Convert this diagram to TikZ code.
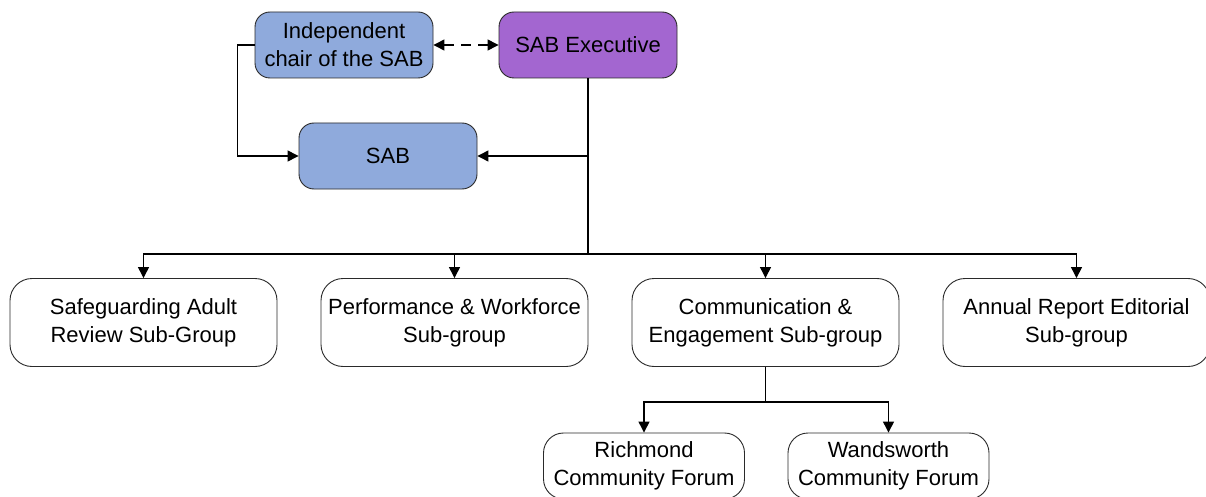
\documentclass[tikz,border=0pt]{standalone}
\usepackage{fontspec}
\setmainfont{Liberation Sans}
\usetikzlibrary{arrows.meta}
\definecolor{boxblue}{HTML}{8FAADC}
\definecolor{boxpurple}{HTML}{A366D0}
\definecolor{edgegray}{HTML}{2A2A2A}
\begin{document}
\begin{tikzpicture}[x=1pt,y=-1pt,
  basebox/.style={draw=edgegray, line width=0.9pt, inner sep=0pt, align=center,
    font=\fontsize{22}{28}\selectfont, text=black},
  topbox/.style={basebox, rounded corners=15pt, minimum width=178pt, minimum height=66pt},
  subbox/.style={basebox, rounded corners=22pt, minimum width=267pt, minimum height=88pt},
  forumbox/.style={basebox, rounded corners=20pt, minimum width=201pt, minimum height=66pt},
  conn/.style={draw=black, line width=1.3pt},
  arr/.style={conn, -{Triangle[length=11pt,width=11pt]}},
  darr/.style={conn, {Triangle[length=11pt,width=11pt]}-{Triangle[length=11pt,width=11pt]}, dash pattern=on 10pt off 7pt}
]
\useasboundingbox (0,0) rectangle (1206,497);
\fill[white] (0,0) rectangle (1206,497);
\clip (0,0) rectangle (1206,497);

\node[topbox, fill=boxblue] (chair) at (344,45) {Independent\\chair of the SAB};
\node[topbox, fill=boxpurple] (exec) at (588,45) {SAB Executive};
\node[topbox, fill=boxblue] (sab) at (388,156) {SAB};

\node[subbox] (sag) at (143.5,322.5) {Safeguarding Adult\\Review Sub-Group};
\node[subbox] (perf) at (454.5,322.5) {Performance \& Workforce\\Sub-group};
\node[subbox] (comm) at (765.5,322.5) {Communication \&\\Engagement Sub-group};
\node[subbox] (annual) at (1076.5,322.5) {Annual Report Editorial\\Sub-group};

\node[forumbox] (rich) at (644,466) {Richmond\\Community Forum};
\node[forumbox] (wand) at (888.5,466) {Wandsworth\\Community Forum};

\coordinate (bus) at (588,254);
\coordinate (cbus) at (765.5,402);

\draw[darr] (chair.east) -- (exec.west);
\draw[arr] (chair.west) -- ++(-17,0) |- (sab.west);
\draw[conn] (exec.south) -- (bus);
\draw[arr] (exec.south |- sab.east) -- (sab.east);
\draw[arr] (bus) -| (sag.north);
\draw[arr] (bus) -| (perf.north);
\draw[arr] (bus) -| (comm.north);
\draw[arr] (bus) -| (annual.north);
\draw[conn] (comm.south) -- (cbus);
\draw[arr] (cbus) -| (rich.north);
\draw[arr] (cbus) -| (wand.north);
\end{tikzpicture}
\end{document}
